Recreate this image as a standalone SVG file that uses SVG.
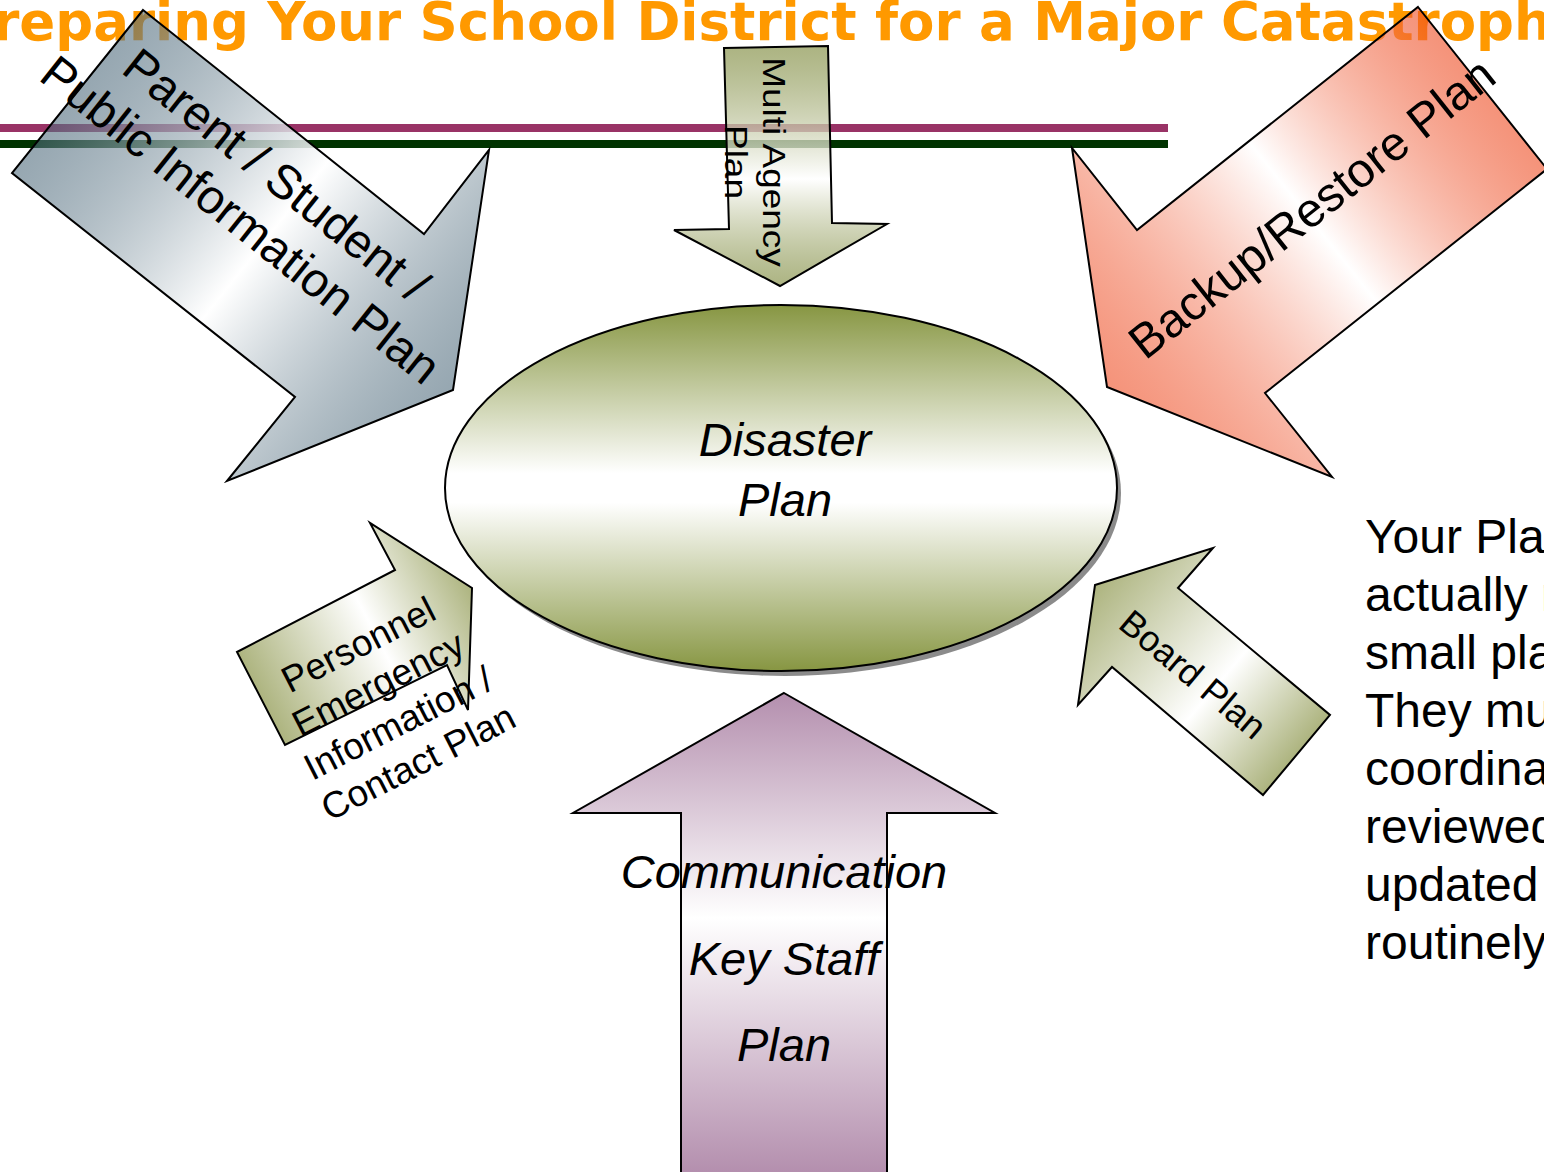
<svg xmlns="http://www.w3.org/2000/svg" width="1544" height="1172" viewBox="0 0 1544 1172">
<style>
.ol{stroke:#000;stroke-width:2;stroke-linejoin:miter}
.t{font-family:"Liberation Sans",Arial,sans-serif;fill:#000}
.it{font-style:italic}
.title{font-family:"DejaVu Sans",Verdana,sans-serif;font-weight:bold;font-size:53px;fill:#FF9900}
</style>
<defs>
<linearGradient id="gParent" gradientUnits="userSpaceOnUse" x1="77" y1="91" x2="453" y2="390">
<stop offset="0" stop-color="rgb(80,108,125)" stop-opacity="0.6"/>
<stop offset="0.5" stop-color="#fff" stop-opacity="0.9"/>
<stop offset="1" stop-color="rgb(80,108,125)" stop-opacity="0.6"/>
</linearGradient>
<linearGradient id="gBackup" gradientUnits="userSpaceOnUse" x1="1482" y1="88" x2="1107" y2="387">
<stop offset="0" stop-color="rgb(238,75,33)" stop-opacity="0.6"/>
<stop offset="0.45" stop-color="#fff" stop-opacity="0.9"/>
<stop offset="1" stop-color="rgb(238,75,33)" stop-opacity="0.6"/>
</linearGradient>
<linearGradient id="gMulti" gradientUnits="userSpaceOnUse" x1="0" y1="47" x2="0" y2="287">
<stop offset="0" stop-color="rgb(117,130,47)" stop-opacity="0.6"/>
<stop offset="0.55" stop-color="#fff" stop-opacity="0.85"/>
<stop offset="1" stop-color="rgb(117,130,47)" stop-opacity="0.6"/>
</linearGradient>
<linearGradient id="gEll" x1="0" y1="0" x2="0" y2="1">
<stop offset="0" stop-color="#879642"/>
<stop offset="0.46" stop-color="#fff"/>
<stop offset="0.54" stop-color="#fff"/>
<stop offset="1" stop-color="#879642"/>
</linearGradient>
<linearGradient id="gPers" gradientUnits="userSpaceOnUse" x1="261" y1="698" x2="472" y2="588">
<stop offset="0" stop-color="#adb47f"/>
<stop offset="0.55" stop-color="#fff"/>
<stop offset="1" stop-color="#adb47f"/>
</linearGradient>
<linearGradient id="gBoard" gradientUnits="userSpaceOnUse" x1="1296" y1="755" x2="1095" y2="585">
<stop offset="0" stop-color="#adb47f"/>
<stop offset="0.4" stop-color="#fff"/>
<stop offset="1" stop-color="#adb47f"/>
</linearGradient>
<linearGradient id="gComm" gradientUnits="userSpaceOnUse" x1="0" y1="693" x2="0" y2="1172">
<stop offset="0" stop-color="#b48fae"/>
<stop offset="0.47" stop-color="#fff"/>
<stop offset="1" stop-color="#b48fae"/>
</linearGradient>
</defs>
<rect width="1544" height="1172" fill="#fff"/>
<g id="title">
<text class="title" x="771" y="40" text-anchor="middle">Preparing Your School District for a Major Catastrophe</text>
</g>
<g id="rules">
<rect x="0" y="124" width="1168" height="8" fill="#993366"/>
<rect x="0" y="140" width="1168" height="8" fill="#003300"/>
</g>
<g id="connectors"></g>
<g id="parent-plan">
<polygon class="ol" fill="url(#gParent)" points="143,10 424,234 489,150 453,390 227,481 295,397 12,173"/>
<text class="t" font-size="48" text-anchor="middle" transform="translate(266,188) rotate(38.5)"><tspan x="0" y="0">Parent / Student /</tspan><tspan x="0" y="57">Public Information Plan</tspan></text>
</g>
<g id="multi-agency-plan">
<polygon class="ol" fill="url(#gMulti)" points="724,48 828,46 832,223 887,224 780,286 674,230 729,229"/>
<text class="t" font-size="37" text-anchor="middle" transform="translate(763,162) rotate(90) scale(1,0.84)"><tspan x="0" y="0">Multi Agency</tspan><tspan x="0" y="45">Plan</tspan></text>
</g>
<g id="backup-restore-plan">
<polygon class="ol" fill="url(#gBackup)" points="1418,7 1547,169 1265,393 1332,477 1107,387 1072,148 1137,230"/>
<text class="t" font-size="48" text-anchor="middle" transform="translate(1322,221) rotate(-38.4)">Backup/Restore Plan</text>
</g>
<g id="disaster-plan">
<ellipse cx="785" cy="493" rx="336" ry="183" fill="#777" opacity="0.85"/>
<ellipse class="ol" cx="781" cy="488" rx="336" ry="183" fill="url(#gEll)"/>
<text class="t it" font-size="47" text-anchor="middle"><tspan x="785" y="456">Disaster</tspan><tspan x="785" y="516">Plan</tspan></text>
</g>
<g id="personnel-plan">
<polygon class="ol" fill="url(#gPers)" points="237,652 395,570 370,523 472,588 468,710 447,665 285,745"/>
<text class="t" font-size="37" text-anchor="middle" transform="translate(364,656) rotate(-27)"><tspan x="0" y="0">Personnel</tspan><tspan x="0" y="44">Emergency</tspan><tspan x="0" y="88">Information /</tspan><tspan x="0" y="132">Contact Plan</tspan></text>
</g>
<g id="board-plan">
<polygon class="ol" fill="url(#gBoard)" points="1095,585 1213,548 1178,588 1330,715 1263,795 1112,667 1078,705"/>
<text class="t" font-size="36" text-anchor="middle" transform="translate(1185,684) rotate(40)">Board Plan</text>
</g>
<g id="communication-plan">
<polygon class="ol" fill="url(#gComm)" points="784,693 995,813 887,813 887,1180 681,1180 681,813 573,813"/>
<text class="t it" font-size="47" text-anchor="middle"><tspan x="784" y="888">Communication</tspan><tspan x="784" y="975">Key Staff</tspan><tspan x="784" y="1061">Plan</tspan></text>
</g>
<g id="note">
<text class="t" font-size="48"><tspan x="1365" y="553">Your Pla</tspan><tspan x="1365" y="611">actually m</tspan><tspan x="1365" y="669">small pla</tspan><tspan x="1365" y="727">They mu</tspan><tspan x="1365" y="785">coordina</tspan><tspan x="1365" y="843">reviewed</tspan><tspan x="1365" y="901">updated</tspan><tspan x="1365" y="959">routinely</tspan></text>
</g>
</svg>
